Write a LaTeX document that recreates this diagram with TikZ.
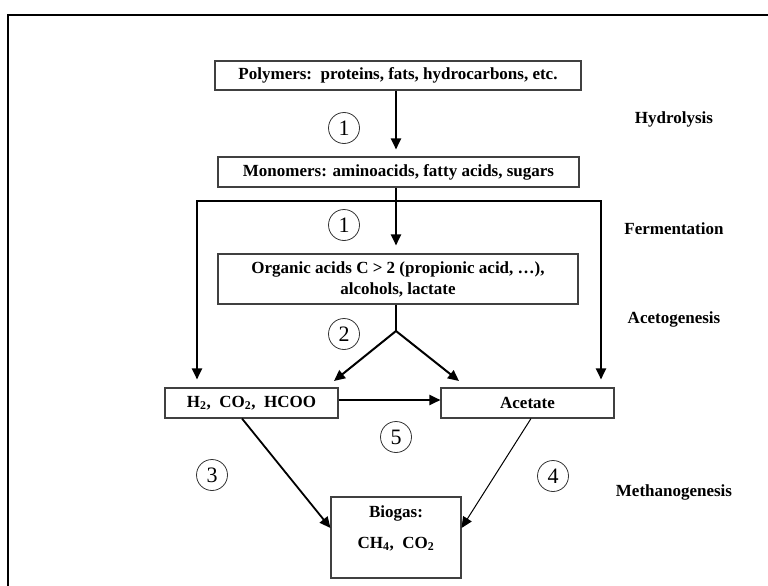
\documentclass[tikz,border=0pt]{standalone}
\usepackage{fontspec}
\setmainfont{Liberation Serif}
\usetikzlibrary{arrows.meta}
\newcommand{\boxfont}{\bfseries\fontsize{17}{21}\selectfont}
\newcommand{\numfont}{\fontsize{22}{23}\selectfont}
\begin{document}
\begin{tikzpicture}[x=1pt,y=-1pt,
  stagebox/.style={draw=black!75, line width=1.1pt, inner sep=0pt,
    align=center, font=\boxfont},
  flow/.style={line width=2pt, -{Triangle[length=11pt,width=10pt]}},
  thinflow/.style={line width=1pt, -{Triangle[length=11pt,width=10pt]}},
  bus/.style={line width=2pt},
  stepnum/.style={draw=black!80, line width=0.8pt, circle, minimum size=31pt,
    inner sep=0pt, font=\numfont},
  phase/.style={font=\bfseries\fontsize{17}{20}\selectfont}]
\useasboundingbox (0,0) rectangle (768,586);
\clip (0,0) rectangle (768,586);
\fill[white] (0,0) rectangle (768,586);
% outer frame
\draw[line width=2.5pt] (8,600) -- (8,15) -- (780,15);

% substance boxes
\node[stagebox, minimum width=366pt, minimum height=29pt] (poly) at (398,75.5)
  {Polymers:\ \ proteins, fats, hydrocarbons, etc.};
\node[stagebox, minimum width=361pt, minimum height=30pt] (mono) at (398.5,172)
  {Monomers: aminoacids, fatty acids, sugars};
\node[stagebox, minimum width=360pt, minimum height=50pt] (org) at (398,279)
  {Organic acids C > 2 (propionic acid, \dots),\\alcohols, lactate};
\node[stagebox, minimum width=173pt, minimum height=30pt] (h2) at (251.5,403)
  {H\textsubscript{2},\ \ CO\textsubscript{2},\ \ HCOO};
\node[stagebox, minimum width=173pt, minimum height=30pt] (acet) at (527.5,403)
  {Acetate};
\node[stagebox, minimum width=130pt, minimum height=81pt] (bio) at (396,537.5)
  {Biogas:\\[10pt]CH\textsubscript{4},\ \ CO\textsubscript{2}\\[-6pt]\strut};

% step numbers
\node[stepnum] (s1a) at (344,128) {1};
\node[stepnum] (s1b) at (344,225) {1};
\node[stepnum] (s2)  at (344,334) {2};
\node[stepnum] (s3)  at (212,475) {3};
\node[stepnum] (s4)  at (553,476) {4};
\node[stepnum] (s5)  at (396,437) {5};

% phase labels
\node[phase] (hyd) at (674,119) {Hydrolysis};
\node[phase] (fer) at (674,229) {Fermentation};
\node[phase] (acg) at (674,319) {Acetogenesis};
\node[phase] (met) at (674,492) {Methanogenesis};

% hydrolysis and fermentation
\draw[flow, shorten >=7pt] (poly.south -| 396,0) -- (mono.north -| 396,0);
\draw[flow, shorten >=8pt] (mono.south -| 396,0) -- (org.north -| 396,0);
\coordinate (busL) at (197,201);
\coordinate (busR) at (601,201);
\draw[bus] ([xshift=-1pt]busL) -- ([xshift=1pt]busR);
\draw[flow, shorten >=8pt] (busL) -- (busL |- h2.north);
\draw[flow, shorten >=8pt] (busR) -- (busR |- acet.north);

% acetogenesis fork
\coordinate (fork) at (396,331);
\coordinate (forkL) at (334,381);
\coordinate (forkR) at (459,381);
\draw[bus] (org.south -| fork) -- (fork);
\draw[flow] (fork) -- (forkL);
\draw[flow] (fork) -- (forkR);

% homoacetogenesis
\draw[flow] ([yshift=3pt]h2.east) -- ([yshift=3pt]acet.west);

% methanogenesis
\draw[flow, line width=1.8pt] ([xshift=-9.5pt]h2.south) -- ([yshift=9.5pt]bio.west);
\draw[thinflow] ([xshift=3.5pt]acet.south) -- ([yshift=9.5pt]bio.east);
\end{tikzpicture}
\end{document}
